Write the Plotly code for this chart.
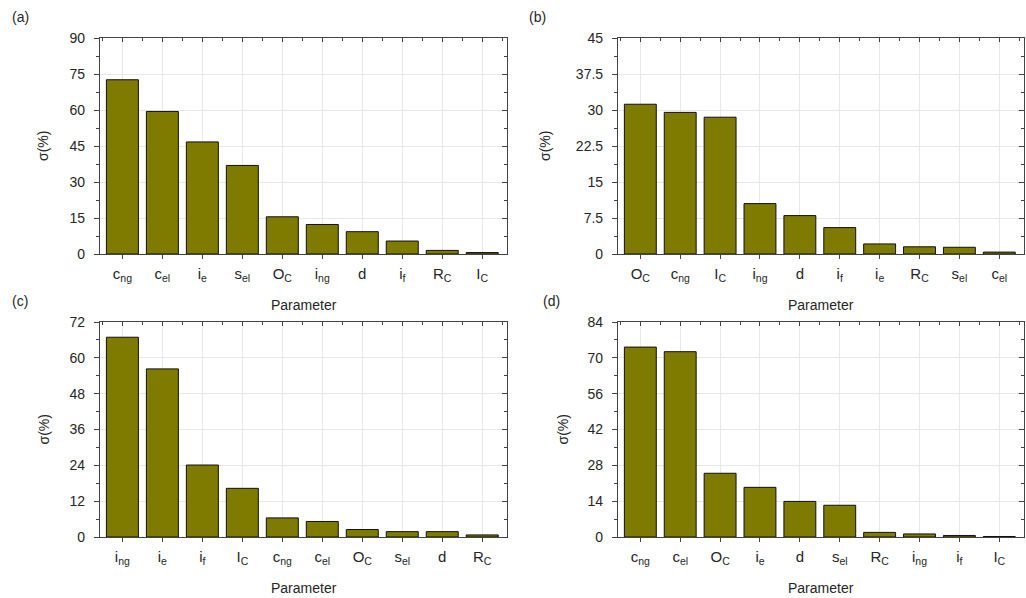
import plotly.graph_objects as go

# Sensitivity (sigma, %) of each input parameter, four cases
labels_a = ["c<sub>ng</sub>", "c<sub>el</sub>", "i<sub>e</sub>", "s<sub>el</sub>", "O<sub>C</sub>",
            "i<sub>ng</sub>", "d", "i<sub>f</sub>", "R<sub>C</sub>", "I<sub>C</sub>"]
values_a = [72.6, 59.4, 46.7, 36.9, 15.5, 12.3, 9.3, 5.4, 1.5, 0.6]

labels_b = ["O<sub>C</sub>", "c<sub>ng</sub>", "I<sub>C</sub>", "i<sub>ng</sub>", "d",
            "i<sub>f</sub>", "i<sub>e</sub>", "R<sub>C</sub>", "s<sub>el</sub>", "c<sub>el</sub>"]
values_b = [31.2, 29.5, 28.5, 10.5, 8.0, 5.5, 2.1, 1.5, 1.4, 0.4]

labels_c = ["i<sub>ng</sub>", "i<sub>e</sub>", "i<sub>f</sub>", "I<sub>C</sub>", "c<sub>ng</sub>",
            "c<sub>el</sub>", "O<sub>C</sub>", "s<sub>el</sub>", "d", "R<sub>C</sub>"]
values_c = [66.9, 56.3, 24.1, 16.3, 6.4, 5.2, 2.5, 1.8, 1.8, 0.7]

labels_d = ["c<sub>ng</sub>", "c<sub>el</sub>", "O<sub>C</sub>", "i<sub>e</sub>", "d",
            "s<sub>el</sub>", "R<sub>C</sub>", "i<sub>ng</sub>", "i<sub>f</sub>", "I<sub>C</sub>"]
values_d = [74.2, 72.4, 24.9, 19.4, 13.9, 12.4, 1.8, 1.2, 0.6, 0.2]

y_max = [90, 45, 72, 84]
y_step = [15, 7.5, 12, 14]
panel_tags = ["(a)", "(b)", "(c)", "(d)"]

W, H = 1026, 598
BAR = "#7f7a00"
INK = "#262626"
AX = "#444444"
GRID = "#e8e8e8"
FONT = "Liberation Sans, Arial, sans-serif"

# plot-area boxes in pixels: left, right, top, bottom
boxes = [(100, 507, 38, 254), (618, 1024, 38, 254),
         (100, 507, 322, 537), (618, 1024, 322, 537)]

panels = [(labels_a, values_a), (labels_b, values_b),
          (labels_c, values_c), (labels_d, values_d)]

fig = go.Figure()
layout = dict(width=W, height=H, margin=dict(l=0, r=0, t=0, b=0, autoexpand=False),
              paper_bgcolor="white", plot_bgcolor="white",
              showlegend=False, bargap=0.2,
              font=dict(family=FONT, color=INK, size=13))
annotations = []

for i, ((labs, vals), (l, r, t, b)) in enumerate(zip(panels, boxes)):
    n = i + 1
    sx = "" if n == 1 else str(n)
    tx = str(n + 4)
    xpos = list(range(len(labs)))
    fig.add_trace(go.Bar(x=xpos, y=vals, marker=dict(color=BAR, line=dict(color="#111", width=1)),
                         width=0.8, xaxis="x" + sx, yaxis="y" + sx, hoverinfo="x+y"))
    # empty trace so the frame axes (top / right) get drawn
    fig.add_trace(go.Scatter(x=[], y=[], mode="markers", xaxis="x" + tx, yaxis="y" + tx,
                             hoverinfo="skip"))
    xd = [l / W, r / W]
    yd = [(H - b) / H, (H - t) / H]
    xr = [-0.56, len(labs) - 1 + 0.62]
    yr = [0, y_max[i]]
    layout["xaxis" + sx] = dict(domain=xd, anchor="y" + sx, range=xr, automargin=False,
                                tickmode="array", tickvals=xpos, ticktext=labs,
                                ticks="outside", ticklen=4, tickwidth=1, tickcolor=AX,
                                showline=True, linecolor=AX, linewidth=1.2,
                                showgrid=True, gridcolor=GRID, gridwidth=1,
                                zeroline=False, tickfont=dict(size=15, color=INK),
                                ticklabelstandoff=2)
    layout["yaxis" + sx] = dict(domain=yd, anchor="x" + sx, range=yr, automargin=False,
                                tickmode="linear", tick0=0, dtick=y_step[i],
                                ticks="outside", ticklen=5, tickwidth=1, tickcolor=AX,
                                minor=dict(ticks="outside", ticklen=3, dtick=y_step[i] / 2,
                                           tick0=0, tickcolor=AX, showgrid=False),
                                showline=True, linecolor=AX, linewidth=1.2,
                                showgrid=True, gridcolor=GRID, gridwidth=1,
                                zeroline=False, tickfont=dict(size=14, color=INK),
                                ticklabelstandoff=6)
    # top and right frame axes with inward ticks
    layout["xaxis" + tx] = dict(overlaying="x" + sx, anchor="y" + sx, side="top", range=xr,
                                automargin=False,
                                tickmode="array", tickvals=xpos, showticklabels=False,
                                ticks="inside", ticklen=4, tickcolor=AX,
                                minor=dict(ticks="inside", ticklen=3, tick0=0.5, dtick=1,
                                           tickcolor=AX),
                                showline=True, linecolor=AX, linewidth=1.2,
                                showgrid=False, zeroline=False)
    layout["yaxis" + tx] = dict(overlaying="y" + sx, anchor="x" + sx, side="right", range=yr,
                                automargin=False,
                                tickmode="linear", tick0=0, dtick=y_step[i], showticklabels=False,
                                ticks="inside", ticklen=5, tickcolor=AX,
                                minor=dict(ticks="inside", ticklen=3, dtick=y_step[i] / 2,
                                           tick0=0, tickcolor=AX),
                                showline=True, linecolor=AX, linewidth=1.2,
                                showgrid=False, zeroline=False)

    # panel tag, axis titles
    tag_x = 10 if n in (1, 3) else (527 if n == 2 else 541)
    annotations.append(dict(text=panel_tags[i], x=tag_x / W, y=(H - (t - 21)) / H,
                            xref="paper", yref="paper", xanchor="left", yanchor="middle",
                            showarrow=False, font=dict(size=14, color=INK)))
    annotations.append(dict(text="Parameter", x=((l + r) / 2) / W, y=(H - (b + 51)) / H,
                            xref="paper", yref="paper", xanchor="center", yanchor="middle",
                            showarrow=False, font=dict(size=14, color=INK)))
    ytx = {1: 43, 2: 545, 3: 43, 4: 562}[n]
    annotations.append(dict(text="σ(%)", x=ytx / W, y=(H - (t + b) / 2) / H,
                            xref="paper", yref="paper", xanchor="center", yanchor="middle",
                            textangle=-90, showarrow=False, font=dict(size=14, color=INK)))

layout["annotations"] = annotations
fig.update_layout(**layout)
fig.write_html("out.html")
